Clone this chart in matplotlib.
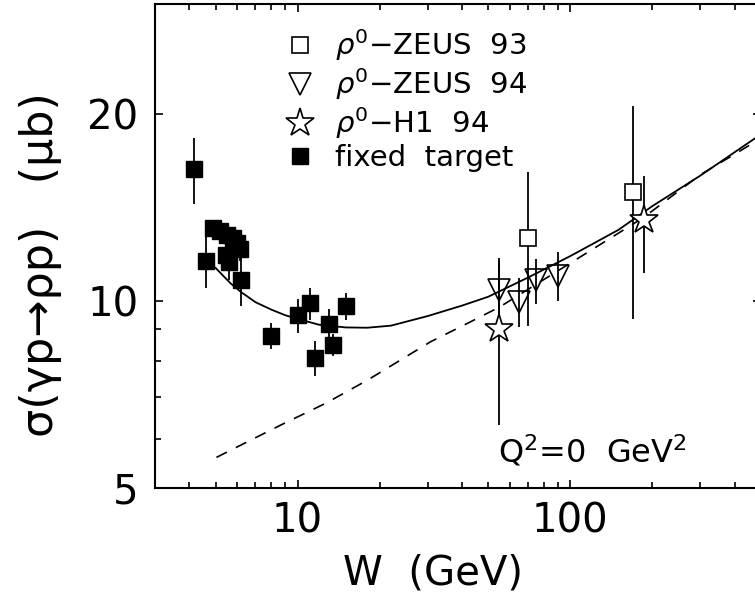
import matplotlib
matplotlib.use('Agg')
import matplotlib.pyplot as plt
from matplotlib.ticker import FixedLocator, NullFormatter, FixedFormatter

# Datos: W (GeV), sigma (mub), error
ft_w = [4.17, 4.63, 4.90, 5.18, 5.50, 5.78, 5.98, 5.45, 5.59, 6.13, 6.22,
        8.01, 10.0, 11.07, 11.54, 13.06, 13.5, 15.0]
ft_s = [16.3, 11.6, 13.1, 12.93, 12.74, 12.6, 12.4, 11.83, 11.54, 12.1, 10.81,
        8.78, 9.48, 9.9, 8.1, 9.19, 8.5, 9.8]
ft_e = [2.0, 1.1, 0.4, 0.4, 0.4, 0.4, 0.4, 0.4, 0.75, 0.5, 1.0,
        0.43, 0.6, 0.58, 0.53, 0.5, 0.35, 0.5]

zeus93_w = [70.0, 169.0]
zeus93_s = [12.6, 14.95]
zeus93_e = [3.5, 5.6]

zeus94_w = [54.9, 65.0, 74.9, 89.9]
zeus94_s = [10.4, 9.96, 10.79, 10.98]
zeus94_e = [1.2, 0.9, 0.9, 1.0]

h1_w = [54.9, 185.6]
h1_s = [9.02, 13.47]
h1_e = [2.7, 2.4]

# Curvas del modelo (leidas punto a punto)
solid_w = [5.0, 5.3, 5.7, 6.2, 7.0, 8.0, 9.0, 10, 12, 15, 18, 22, 30, 40, 50,
           70, 100, 150, 200, 300, 480]
solid_s = [11.3, 11.0, 10.65, 10.33, 9.95, 9.68, 9.48, 9.35, 9.15, 9.06, 9.05, 9.12,
           9.45, 9.82, 10.15, 10.9, 11.8, 13.0, 14.2, 15.9, 18.3]
dash_w = [5.04, 6.0, 8.66, 12.66, 18, 30.7, 42, 55, 113.5, 185, 300, 463, 480]
dash_s = [5.6, 5.82, 6.31, 6.84, 7.45, 8.59, 9.2, 9.77, 11.9, 13.6, 15.95,
          17.88, 18.3]

plt.rcParams['font.family'] = ['DejaVu Sans']
plt.rcParams['mathtext.fontset'] = 'dejavusans'

fig = plt.figure(figsize=(7.55, 6.01), dpi=100)
ax = fig.add_axes([155 / 755, 113 / 601, 606 / 755, 484 / 601])

lw_err = 1.3
ax.plot(solid_w, solid_s, color='black', lw=1.3)
ax.plot(dash_w, dash_s, color='black', lw=1.2, dashes=(7, 6))

ax.errorbar(ft_w, ft_s, yerr=ft_e, fmt='none', ecolor='black', elinewidth=lw_err, capsize=0)
ax.errorbar(zeus93_w, zeus93_s, yerr=zeus93_e, fmt='none', ecolor='black', elinewidth=lw_err, capsize=0)
ax.errorbar(zeus94_w, zeus94_s, yerr=zeus94_e, fmt='none', ecolor='black', elinewidth=lw_err, capsize=0)
ax.errorbar(h1_w, h1_s, yerr=h1_e, fmt='none', ecolor='black', elinewidth=lw_err, capsize=0)

h93, = ax.plot(zeus93_w, zeus93_s, ls='none', marker='s', ms=12, mfc='white', mec='black', mew=1.2,
               label=r'$\rho^0$−ZEUS  93')
h94, = ax.plot(zeus94_w, zeus94_s, ls='none', marker='v', ms=16, mfc='none', mec='black', mew=1.2,
               label=r'$\rho^0$−ZEUS  94')
hh1, = ax.plot(h1_w, h1_s, ls='none', marker='*', ms=21, mfc='white', mec='black', mew=1.2,
               label=r'$\rho^0$−H1  94')
hft, = ax.plot(ft_w, ft_s, ls='none', marker='s', ms=11, mfc='black', mec='black',
               label='fixed  target')

ax.set_xscale('log')
ax.set_yscale('log')
ax.set_xlim(3, 500)
ax.set_ylim(5, 30)

# ticks
ax.xaxis.set_major_locator(FixedLocator([10, 100]))
ax.xaxis.set_major_formatter(FixedFormatter(['10', '100']))
ax.xaxis.set_minor_locator(FixedLocator([3, 4, 5, 6, 7, 8, 9, 20, 30, 40, 50, 60, 70, 80, 90,
                                         200, 300, 400]))
ax.xaxis.set_minor_formatter(NullFormatter())
ax.yaxis.set_major_locator(FixedLocator([5, 10, 20]))
ax.yaxis.set_major_formatter(FixedFormatter(['5', '10', '20']))
ax.yaxis.set_minor_locator(FixedLocator([6, 7, 8, 9]))
ax.yaxis.set_minor_formatter(NullFormatter())

ax.tick_params(which='both', direction='in', top=True, right=True, width=1.2)
ax.tick_params(which='major', length=6)
ax.tick_params(which='minor', length=4.5)
ax.tick_params(axis='y', which='major', labelsize=29, pad=12)
ax.tick_params(axis='x', which='major', labelsize=29, pad=10)
for sp in ax.spines.values():
    sp.set_linewidth(1.5)

ax.set_xlabel('W  (GeV)', fontsize=29)
ax.xaxis.set_label_coords(0.459, -0.135)
ax.set_ylabel('σ(γp→ρp)   (μb)', fontsize=32)
ax.yaxis.set_label_coords(-0.153, 0.461)

ax.text(0.566, 0.052, r'Q$^2$=0  GeV$^2$', transform=ax.transAxes, fontsize=23,
        ha='left', va='baseline')

ax.legend(handles=[h93, h94, hh1, hft], loc='upper left', bbox_to_anchor=(0.172, 1.0),
          frameon=False, fontsize=21, labelspacing=0.1, handletextpad=0.6,
          handlelength=1.2, borderpad=0.3)

fig.savefig('out.png', dpi=100)
